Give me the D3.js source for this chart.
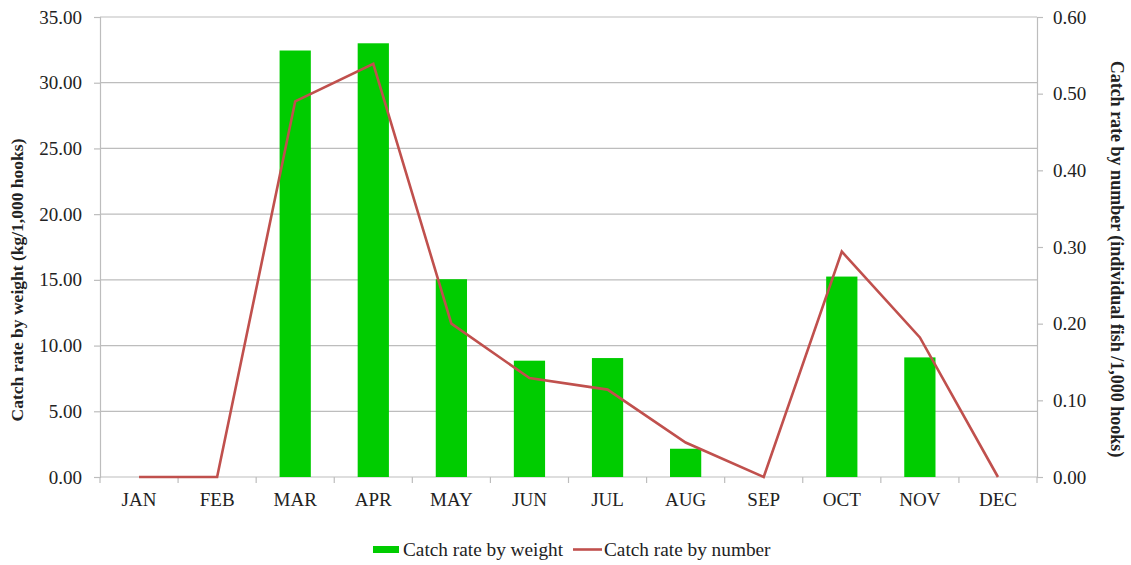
<!DOCTYPE html>
<html><head><meta charset="utf-8">
<script src="https://cdn.jsdelivr.net/npm/d3@7"></script>
<style>body{margin:0;background:#fff;}</style></head>
<body><svg id="c" width="1131" height="565"></svg>
<script>
const months = ["JAN","FEB","MAR","APR","MAY","JUN","JUL","AUG","SEP","OCT","NOV","DEC"];
const weightRate = [0, 0, 32.45, 33.0, 15.05, 8.85, 9.05, 2.15, 0, 15.25, 9.1, 0];
const numberRate = [0, 0, 0.49, 0.539, 0.20, 0.129, 0.114, 0.045, 0, 0.294, 0.182, 0];
const leftTicks = [0,5,10,15,20,25,30,35];
const rightTicks = [0,0.1,0.2,0.3,0.4,0.5,0.6];

const FONT = "Liberation Serif";
const svg = d3.select("#c");
const L = 100, R = 1037, T = 17, B = 477;
const x = d3.scaleBand().domain(months).range([L, R]).paddingInner(0);
const yL = d3.scaleLinear().domain([0,35]).range([B, T]);
const yR = d3.scaleLinear().domain([0,0.6]).range([B, T]);
const grid = "#bdbdbd";

svg.append("g").selectAll("line").data(leftTicks.filter(d=>d>0)).join("line")
  .attr("x1", L).attr("x2", R).attr("y1", d=>yL(d)).attr("y2", d=>yL(d))
  .attr("stroke", grid).attr("stroke-width", 1.2);

const gl = svg.append("g").attr("transform", `translate(${L},0)`)
  .call(d3.axisLeft(yL).tickValues(leftTicks).tickFormat(d3.format(".2f")).tickSize(6).tickPadding(12));
const gr = svg.append("g").attr("transform", `translate(${R},0)`)
  .call(d3.axisRight(yR).tickValues(rightTicks).tickFormat(d3.format(".2f")).tickSize(6).tickPadding(10));
const gb = svg.append("g").attr("transform", `translate(0,${B})`)
  .call(d3.axisBottom(x).tickSize(0).tickPadding(16));
[gl,gr,gb].forEach(g=>{
  g.attr("font-family", null).attr("font-size", null);
  g.selectAll("path.domain").attr("stroke", grid).attr("stroke-width",1.2);
  g.selectAll(".tick line").attr("stroke", grid).attr("stroke-width",1.2);
  g.selectAll("text").attr("fill","#222").attr("font-family", FONT).attr("font-size", 19);
});
gb.select("path.domain").remove();
svg.append("line").attr("x1",L).attr("x2",R).attr("y1",B).attr("y2",B).attr("stroke",grid).attr("stroke-width",1.2);
const bounds = months.map(m=>x(m)).concat([R]);
svg.append("g").selectAll("line").data(bounds).join("line")
  .attr("x1",d=>d).attr("x2",d=>d).attr("y1",B).attr("y2",B+6)
  .attr("stroke",grid).attr("stroke-width",1.2);

const bw = x.bandwidth()*0.4;
svg.append("g").selectAll("rect").data(months.map((m,i)=>({m,v:weightRate[i]})).filter(d=>d.v>0)).join("rect")
  .attr("x", d=>x(d.m)+x.bandwidth()/2-bw/2).attr("width", bw)
  .attr("y", d=>yL(d.v)).attr("height", d=>B-yL(d.v))
  .attr("fill","#00cc00");

const line = d3.line().x((d,i)=>x(months[i])+x.bandwidth()/2).y(d=>yR(d));
svg.append("path").datum(numberRate).attr("d", line)
  .attr("fill","none").attr("stroke","#c0504d").attr("stroke-width",2.6).attr("stroke-linejoin","miter");

svg.append("text").attr("transform", `translate(23,280) rotate(-90)`)
  .attr("text-anchor","middle").attr("font-family",FONT).attr("font-size",17.5).attr("font-weight","bold").attr("fill","#222")
  .text("Catch rate by weight (kg/1,000 hooks)");
svg.append("text").attr("transform", `translate(1111,259) rotate(90)`)
  .attr("text-anchor","middle").attr("font-family",FONT).attr("font-size",18).attr("font-weight","bold").attr("fill","#222")
  .text("Catch rate by number (individual fish /1,000 hooks)");

const lg = svg.append("g");
lg.append("rect").attr("x",373).attr("y",546).attr("width",26).attr("height",7).attr("fill","#00cc00");
lg.append("text").attr("x",403).attr("y",556).attr("font-family",FONT).attr("font-size",19.3).attr("fill","#222").text("Catch rate by weight");
lg.append("line").attr("x1",573).attr("x2",602).attr("y1",549.5).attr("y2",549.5).attr("stroke","#c0504d").attr("stroke-width",2.6);
lg.append("text").attr("x",604).attr("y",556).attr("font-family",FONT).attr("font-size",19.3).attr("fill","#222").text("Catch rate by number");
</script></body></html>
